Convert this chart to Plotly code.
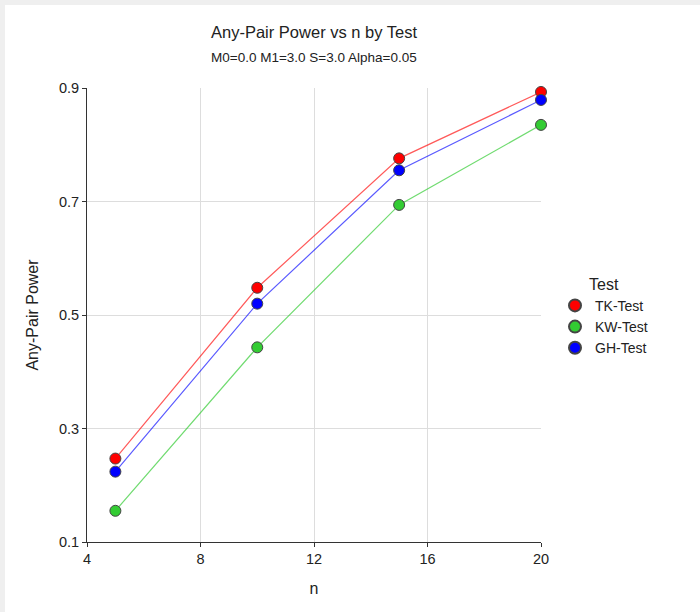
import plotly.graph_objects as go

n_values = [5, 10, 15, 20]
tk_power = [0.247, 0.548, 0.776, 0.893]
kw_power = [0.155, 0.443, 0.694, 0.835]
gh_power = [0.224, 0.520, 0.755, 0.879]
series_names = ["TK-Test", "KW-Test", "GH-Test"]
x_ticks = [4, 8, 12, 16, 20]
y_ticks = [0.1, 0.3, 0.5, 0.7, 0.9]

marker_colors = ["#ff0000", "#33cc33", "#0000ff"]
line_colors = ["rgba(255,0,0,0.65)", "rgba(51,204,51,0.7)", "rgba(0,0,255,0.65)"]

W, H = 700, 612
L, R, T, B = 87, 159, 88, 70
pw, ph = W - L - R, H - T - B

fig = go.Figure()
all_vals = [tk_power, kw_power, gh_power]
for name, vals, lc in zip(series_names, all_vals, line_colors):
    fig.add_trace(go.Scatter(
        x=n_values, y=vals, name=name, mode="lines", showlegend=False,
        line=dict(color=lc, width=1.2), cliponaxis=False, hoverinfo="skip",
    ))
for name, vals, mc in zip(series_names, all_vals, marker_colors):
    fig.add_trace(go.Scatter(
        x=n_values, y=vals, name=name, mode="markers", cliponaxis=False,
        marker=dict(color=mc, size=11, line=dict(color="#444444", width=1)),
    ))

font_family = "Liberation Sans, Arial, sans-serif"

def px_x(p):
    return (p - L) / pw

def px_y(p):
    return (H - B - p) / ph

fig.update_layout(
    width=W, height=H,
    margin=dict(l=L, r=R, t=T, b=B),
    paper_bgcolor="white", plot_bgcolor="white",
    font=dict(family=font_family, color="#222222"),
    showlegend=True,
    legend=dict(
        title=dict(text="Test", font=dict(size=16, color="#222222"), side="top center"),
        font=dict(size=14, color="#222222"),
        x=px_x(555), xanchor="left", y=px_y(269), yanchor="top",
        bgcolor="rgba(0,0,0,0)", itemsizing="constant", tracegroupgap=0,
        itemwidth=30,
    ),
    xaxis=dict(
        range=[4, 20], tickvals=x_ticks, ticktext=[str(v) for v in x_ticks],
        showgrid=True, gridcolor="#dddddd", gridwidth=1,
        showline=True, linecolor="#333333", linewidth=1,
        ticks="outside", ticklen=4, tickcolor="#333333",
        tickfont=dict(size=14.5, color="#222222"),
        zeroline=False,
        title=dict(text="n", font=dict(size=16, color="#222222"), standoff=16),
    ),
    yaxis=dict(
        range=[0.1, 0.9], tickvals=y_ticks, ticktext=["%.1f" % v for v in y_ticks],
        showgrid=True, gridcolor="#dddddd", gridwidth=1,
        showline=True, linecolor="#333333", linewidth=1,
        ticks="outside", ticklen=4, tickcolor="#333333",
        tickfont=dict(size=14.5, color="#222222"),
        zeroline=False,
        title=dict(text="Any-Pair Power", font=dict(size=16, color="#222222"), standoff=16),
    ),
    annotations=[
        dict(text="Any-Pair Power vs n by Test", xref="paper", yref="paper",
             x=0.5, y=px_y(32), xanchor="center", yanchor="middle", showarrow=False,
             font=dict(size=16.5, color="#222222")),
        dict(text="M0=0.0 M1=3.0 S=3.0 Alpha=0.05", xref="paper", yref="paper",
             x=0.5, y=px_y(57), xanchor="center", yanchor="middle", showarrow=False,
             font=dict(size=13.5, color="#222222")),
    ],
    shapes=[
        dict(type="rect", xref="paper", yref="paper", layer="above",
             x0=px_x(-2), x1=px_x(W + 2), y0=px_y(5), y1=px_y(-2),
             fillcolor="#efefef", line=dict(width=0)),
        dict(type="rect", xref="paper", yref="paper", layer="above",
             x0=px_x(-2), x1=px_x(5), y0=px_y(H + 2), y1=px_y(-2),
             fillcolor="#efefef", line=dict(width=0)),
    ],
)

fig.write_html("out.html")
